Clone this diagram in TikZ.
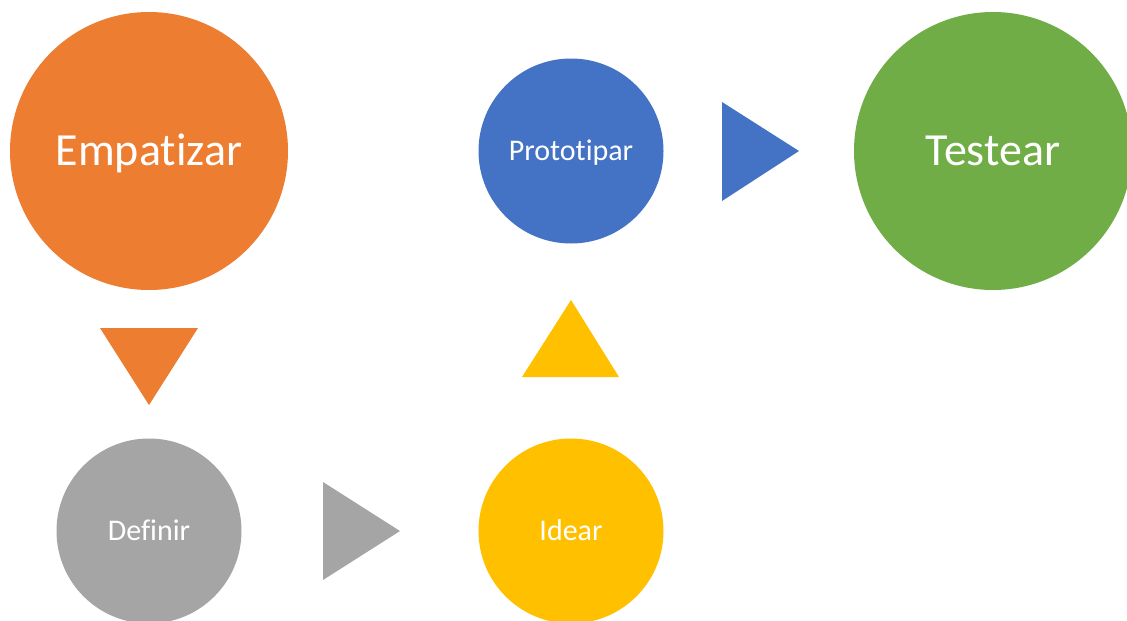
\documentclass[tikz,border=0pt]{standalone}
\usepackage{fontspec}
\setmainfont{Carlito}[Ligatures={NoCommon}]
\definecolor{corange}{HTML}{ED7D31}
\definecolor{cblue}{HTML}{4472C4}
\definecolor{cgreen}{HTML}{70AD47}
\definecolor{cgray}{HTML}{A5A5A5}
\definecolor{cyellow}{HTML}{FFC000}
\begin{document}
\begin{tikzpicture}[x=1pt,y=-1pt,
  stage/.style={circle,inner sep=0pt,text=white,text depth=0pt},
  bigstage/.style={stage,minimum size=278pt,text height=29.4pt,font=\fontsize{46}{52}\selectfont},
  smallstage/.style={stage,minimum size=185pt,text height=19.2pt,font=\fontsize{30}{36}\selectfont}]
\useasboundingbox[fill=white] (0,0) rectangle (1127,621);
\node[bigstage,fill=corange] (emp) at (149,151) {Empatizar};
\node[bigstage,fill=cgreen] (test) at (993,151) {Testear};
\node[smallstage,fill=cblue] (proto) at (571,151) {Prototipar};
\node[smallstage,fill=cgray] (def) at (149,531) {Definir};
\node[smallstage,fill=cyellow] (idea) at (571,531) {Idear};
% triangles
\fill[corange] (100,328) -- (198,328) -- (149,405) -- cycle;
\fill[cyellow] (522,377) -- (619,377) -- (571,300) -- cycle;
\fill[cgray] (323,482) -- (323,580) -- (400,531) -- cycle;
\fill[cblue] (722,102) -- (722,201) -- (799,151) -- cycle;
\end{tikzpicture}
\end{document}
